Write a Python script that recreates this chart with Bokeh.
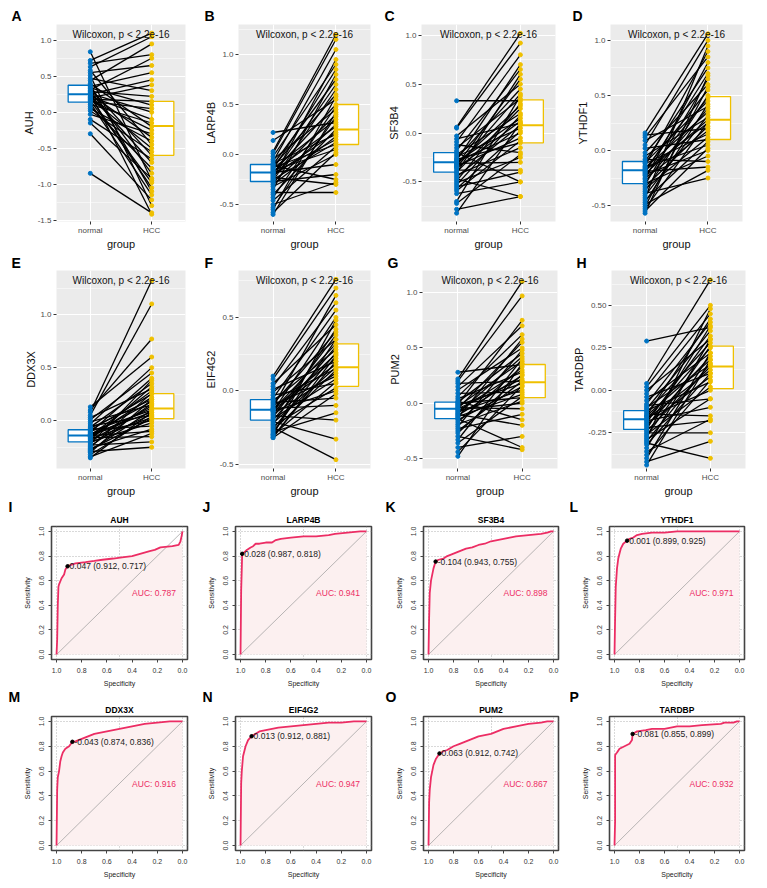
from bokeh.plotting import figure
from bokeh.models import Range1d, FixedTicker, PrintfTickFormatter, Label, ColumnDataSource, Title
from bokeh.layouts import row, column
from bokeh.embed import file_html
from bokeh.resources import INLINE

FONT = "Liberation Sans"
BLUE = "#0073C2"
YELLOW = "#EFC000"
PINK = "#EC2D64"

groups = ["normal", "HCC"]
genes = ["AUH", "LARP4B", "SF3B4", "YTHDF1", "DDX3X", "EIF4G2", "PUM2", "TARDBP"]
box_letters = ["A", "B", "C", "D", "E", "F", "G", "H"]
roc_letters = ["I", "J", "K", "L", "M", "N", "O", "P"]
test_text = "Wilcoxon, p < 2.2e-16"

# ---------------- paired expression values (normal -> HCC) ----------------
normal_AUH = [0.84, 0.72, 0.68, 0.63, 0.58, 0.55, 0.51, 0.47, 0.44, 0.40, 0.38, 0.36, 0.34, 0.33, 0.31, 0.30,
              0.29, 0.27, 0.26, 0.25, 0.25, 0.24, 0.22, 0.21, 0.20, 0.19, 0.18, 0.17, 0.16, 0.15, 0.13, 0.11,
              0.08, 0.05, 0.02, -0.03, -0.10, -0.15, -0.30, -0.85]
hcc_AUH = [-0.95, 1.10, 0.80, 1.05, -0.45, 0.65, -1.30, 0.30, 0.95, -0.20, -1.10, 0.55, 0.10, -0.60, 0.75, -0.85,
           0.22, -1.42, 0.00, -0.35, 0.45, -0.70, -0.10, -1.05, 0.38, -0.50, 0.15, -0.25, -0.98, 0.05, -1.15, -0.15,
           -0.78, -0.40, -0.55, -0.30, -0.65, -0.92, -1.22, -1.40]

normal_LARP4B = [0.22, 0.14, 0.03, 0.01, -0.02, -0.05, -0.07, -0.09, -0.10, -0.11, -0.12, -0.13, -0.14, -0.15, -0.16,
                 -0.17, -0.18, -0.18, -0.19, -0.20, -0.21, -0.22, -0.23, -0.24, -0.25, -0.26, -0.27, -0.28, -0.30,
                 -0.32, -0.35, -0.38, -0.40, -0.43, -0.46, -0.50, -0.53, -0.55, -0.58, -0.60]
hcc_LARP4B = [0.32, 0.55, 1.20, 1.15, 0.90, 0.45, 1.05, 0.20, 0.75, -0.25, 0.60, 0.10, 0.35, 0.85, 0.05, 0.28, 0.50,
              -0.10, 0.15, 0.70, 0.22, 0.40, -0.30, 0.95, 0.12, 0.65, -0.20, 0.30, 0.18, 0.00, 0.80, -0.38, 0.25,
              0.48, 0.08, -0.28, 0.38, 0.58, 0.02, 0.42]

normal_SF3B4 = [0.33, 0.06, 0.05, -0.03, -0.06, -0.09, -0.12, -0.15, -0.18, -0.20, -0.22, -0.24, -0.26, -0.27, -0.28,
                -0.29, -0.30, -0.31, -0.32, -0.33, -0.34, -0.35, -0.36, -0.38, -0.40, -0.41, -0.43, -0.45, -0.47,
                -0.49, -0.51, -0.53, -0.55, -0.57, -0.59, -0.62, -0.70, -0.72, -0.78, -0.82]
hcc_SF3B4 = [0.33, 1.02, 0.92, 0.50, 0.10, 0.80, -0.20, 0.35, 0.65, -0.50, 0.20, 0.05, 0.45, -0.10, 0.70, 0.00, 0.15,
             -0.30, 0.28, 0.55, -0.05, 0.40, 0.12, -0.38, 0.25, 0.60, -0.15, 0.08, -0.65, 0.30, -0.25, 0.18, -0.40,
             0.02, -0.08, -0.50, 0.38, -0.22, -0.65, 0.10]

normal_YTHDF1 = [0.16, 0.14, 0.12, 0.09, 0.05, 0.02, -0.02, -0.05, -0.08, -0.10, -0.11, -0.12, -0.14, -0.15, -0.16,
                 -0.17, -0.18, -0.19, -0.20, -0.21, -0.22, -0.23, -0.25, -0.26, -0.28, -0.30, -0.31, -0.33, -0.35,
                 -0.37, -0.39, -0.41, -0.43, -0.45, -0.47, -0.49, -0.51, -0.53, -0.55, -0.57]
hcc_YTHDF1 = [1.06, 0.20, 0.85, 0.40, 1.00, 0.10, 0.60, 0.30, -0.10, 0.75, 0.45, 0.15, 0.90, 0.05, 0.35, 0.55, 0.25,
              -0.15, 0.70, 0.28, 0.00, 0.48, 0.18, 0.80, 0.38, -0.05, 0.65, 0.22, 0.12, 0.50, -0.25, 0.32, 0.95,
              0.08, 0.42, -0.18, 0.58, 0.26, 0.02, 0.68]

normal_DDX3X = [0.13, 0.10, 0.08, 0.05, 0.03, 0.01, -0.01, -0.03, -0.05, -0.06, -0.07, -0.08, -0.09, -0.10, -0.11,
                -0.12, -0.13, -0.13, -0.14, -0.14, -0.15, -0.15, -0.16, -0.17, -0.18, -0.19, -0.20, -0.21, -0.22,
                -0.23, -0.24, -0.25, -0.26, -0.27, -0.28, -0.29, -0.30, -0.32, -0.34, -0.35]
hcc_DDX3X = [0.60, 0.77, 1.32, 1.10, 0.30, 0.45, 0.15, 0.50, 0.05, 0.35, 0.20, -0.05, 0.25, 0.10, 0.40, 0.00, 0.18,
             0.08, 0.28, -0.10, 0.12, 0.22, -0.15, 0.03, 0.32, 0.14, -0.02, 0.06, 0.38, -0.20, 0.16, 0.26, -0.08,
             0.02, 0.10, -0.25, 0.20, 0.04, -0.12, 0.08]

normal_EIF4G2 = [0.10, 0.08, 0.05, 0.03, 0.01, -0.01, -0.03, -0.05, -0.06, -0.07, -0.08, -0.09, -0.10, -0.11, -0.12,
                 -0.12, -0.13, -0.13, -0.14, -0.14, -0.15, -0.16, -0.17, -0.18, -0.19, -0.20, -0.21, -0.22, -0.23,
                 -0.24, -0.25, -0.26, -0.27, -0.28, -0.29, -0.30, -0.30, -0.31, -0.32, -0.32]
hcc_EIF4G2 = [0.76, 0.70, 0.45, 0.60, 0.20, 0.35, 0.05, 0.55, 0.15, 0.28, -0.05, 0.40, 0.10, 0.65, 0.22, -0.10, 0.32,
              0.18, 0.50, 0.00, 0.25, 0.12, -0.20, 0.38, 0.08, 0.30, -0.33, 0.16, 0.42, 0.02, -0.47, 0.26, 0.14,
              -0.15, 0.35, 0.06, 0.48, 0.20, -0.02, 0.24]

normal_PUM2 = [0.28, 0.22, 0.20, 0.18, 0.15, 0.12, 0.09, 0.06, 0.04, 0.02, 0.01, 0.00, -0.01, -0.02, -0.03, -0.04,
               -0.05, -0.05, -0.06, -0.07, -0.08, -0.09, -0.10, -0.11, -0.12, -0.13, -0.14, -0.15, -0.17, -0.19,
               -0.21, -0.23, -0.25, -0.27, -0.30, -0.33, -0.36, -0.40, -0.44, -0.48]
hcc_PUM2 = [0.35, 1.10, 0.97, 0.20, 0.70, 0.50, 0.10, 0.62, 0.28, -0.15, 0.45, 0.05, 0.75, 0.18, 0.38, -0.05, 0.55,
            0.22, 0.00, 0.30, 0.12, 0.42, -0.20, 0.25, 0.08, 0.58, -0.40, 0.15, 0.33, 0.02, 0.48, -0.10, 0.20, 0.26,
            -0.42, 0.40, 0.06, -0.30, 0.16, 0.36]

normal_TARDBP = [0.29, 0.04, 0.02, 0.00, -0.02, -0.04, -0.06, -0.08, -0.09, -0.10, -0.11, -0.12, -0.13, -0.14, -0.15,
                 -0.15, -0.16, -0.17, -0.17, -0.18, -0.19, -0.20, -0.21, -0.22, -0.23, -0.24, -0.25, -0.26, -0.27,
                 -0.28, -0.29, -0.30, -0.31, -0.32, -0.34, -0.36, -0.38, -0.40, -0.42, -0.44]
hcc_TARDBP = [0.37, 0.65, 0.50, 0.30, 0.45, 0.10, 0.22, 0.40, -0.05, 0.15, 0.35, 0.05, 0.28, -0.15, 0.18, 0.42, 0.00,
              0.25, 0.12, -0.10, 0.32, 0.08, 0.20, -0.18, 0.38, 0.14, -0.25, 0.02, 0.26, 0.48, -0.05, 0.16, -0.40,
              0.10, 0.30, -0.17, 0.06, 0.22, -0.30, 0.18]

# box statistics [q1, median, q3]
box_normal = {
    "AUH": [0.14, 0.25, 0.375], "LARP4B": [-0.27, -0.18, -0.10], "SF3B4": [-0.40, -0.30, -0.20],
    "YTHDF1": [-0.30, -0.18, -0.10], "DDX3X": [-0.20, -0.14, -0.085], "EIF4G2": [-0.20, -0.13, -0.06],
    "PUM2": [-0.14, -0.05, 0.01], "TARDBP": [-0.23, -0.17, -0.12]}
box_hcc = {
    "AUH": [-0.60, -0.19, 0.15], "LARP4B": [0.10, 0.25, 0.50], "SF3B4": [-0.10, 0.08, 0.34],
    "YTHDF1": [0.10, 0.28, 0.49], "DDX3X": [0.02, 0.115, 0.255], "EIF4G2": [0.03, 0.16, 0.32],
    "PUM2": [0.05, 0.19, 0.35], "TARDBP": [0.01, 0.14, 0.26]}

y_limits = {"AUH": (-1.52, 1.22), "LARP4B": (-0.67, 1.30), "SF3B4": (-0.905, 1.11), "YTHDF1": (-0.645, 1.145),
            "DDX3X": (-0.45, 1.415), "EIF4G2": (-0.53, 0.82), "PUM2": (-0.59, 1.20), "TARDBP": (-0.46, 0.705)}
y_ticks = {"AUH": [-1.5, -1.0, -0.5, 0.0, 0.5, 1.0], "LARP4B": [-0.5, 0.0, 0.5, 1.0], "SF3B4": [-0.5, 0.0, 0.5, 1.0],
           "YTHDF1": [-0.5, 0.0, 0.5, 1.0], "DDX3X": [0.0, 0.5, 1.0], "EIF4G2": [-0.5, 0.0, 0.5],
           "PUM2": [-0.5, 0.0, 0.5, 1.0], "TARDBP": [-0.25, 0.0, 0.25, 0.50]}

paired = {"AUH": (normal_AUH, hcc_AUH), "LARP4B": (normal_LARP4B, hcc_LARP4B), "SF3B4": (normal_SF3B4, hcc_SF3B4),
          "YTHDF1": (normal_YTHDF1, hcc_YTHDF1), "DDX3X": (normal_DDX3X, hcc_DDX3X),
          "EIF4G2": (normal_EIF4G2, hcc_EIF4G2), "PUM2": (normal_PUM2, hcc_PUM2), "TARDBP": (normal_TARDBP, hcc_TARDBP)}

# ---------------- ROC curves (specificity, sensitivity) ----------------
spec_AUH = [1.0, 0.995, 0.99, 0.985, 0.98, 0.96, 0.94, 0.93, 0.912, 0.88, 0.85, 0.77, 0.70, 0.635, 0.55, 0.48, 0.40,
            0.33, 0.26, 0.22, 0.175, 0.08, 0.03, 0.016, 0.005, 0.0]
sens_AUH = [0.0, 0.12, 0.40, 0.55, 0.57, 0.62, 0.65, 0.69, 0.717, 0.73, 0.74, 0.75, 0.76, 0.77, 0.78, 0.79, 0.80,
            0.82, 0.84, 0.85, 0.87, 0.88, 0.89, 0.92, 0.97, 1.0]
spec_LARP4B = [1.0, 0.995, 0.99, 0.987, 0.97, 0.95, 0.92, 0.90, 0.88, 0.85, 0.80, 0.75, 0.72, 0.68, 0.60, 0.50, 0.40,
               0.30, 0.25, 0.15, 0.05, 0.0]
sens_LARP4B = [0.0, 0.52, 0.70, 0.818, 0.83, 0.85, 0.87, 0.88, 0.90, 0.90, 0.91, 0.91, 0.93, 0.94, 0.95, 0.96, 0.96,
               0.97, 0.98, 0.99, 1.0, 1.0]
spec_SF3B4 = [1.0, 0.995, 0.99, 0.98, 0.96, 0.943, 0.92, 0.88, 0.85, 0.80, 0.75, 0.70, 0.65, 0.60, 0.55, 0.50, 0.45,
              0.40, 0.35, 0.30, 0.20, 0.10, 0.05, 0.02, 0.0]
sens_SF3B4 = [0.0, 0.30, 0.50, 0.60, 0.70, 0.755, 0.77, 0.78, 0.80, 0.82, 0.84, 0.86, 0.87, 0.89, 0.90, 0.92, 0.93,
              0.94, 0.95, 0.96, 0.97, 0.98, 0.99, 1.0, 1.0]
spec_YTHDF1 = [1.0, 0.995, 0.99, 0.98, 0.97, 0.96, 0.95, 0.93, 0.899, 0.88, 0.85, 0.82, 0.78, 0.70, 0.60, 0.50, 0.0]
sens_YTHDF1 = [0.0, 0.30, 0.55, 0.70, 0.78, 0.82, 0.86, 0.90, 0.925, 0.94, 0.95, 0.97, 0.98, 0.99, 0.99, 1.0, 1.0]
spec_DDX3X = [1.0, 0.995, 0.99, 0.98, 0.97, 0.96, 0.95, 0.93, 0.90, 0.874, 0.85, 0.80, 0.75, 0.70, 0.60, 0.50, 0.40,
              0.30, 0.20, 0.10, 0.0]
sens_DDX3X = [0.0, 0.45, 0.55, 0.60, 0.68, 0.72, 0.75, 0.78, 0.80, 0.836, 0.84, 0.86, 0.88, 0.90, 0.92, 0.94, 0.96,
              0.98, 0.99, 1.0, 1.0]
spec_EIF4G2 = [1.0, 0.995, 0.99, 0.98, 0.96, 0.94, 0.912, 0.88, 0.85, 0.80, 0.75, 0.70, 0.60, 0.50, 0.40, 0.30, 0.20,
               0.10, 0.0]
sens_EIF4G2 = [0.0, 0.50, 0.60, 0.72, 0.80, 0.85, 0.881, 0.90, 0.92, 0.93, 0.94, 0.95, 0.96, 0.97, 0.98, 0.99, 0.99,
               1.0, 1.0]
spec_PUM2 = [1.0, 0.995, 0.99, 0.98, 0.97, 0.96, 0.94, 0.912, 0.88, 0.85, 0.80, 0.75, 0.70, 0.65, 0.60, 0.50, 0.45,
             0.40, 0.30, 0.20, 0.10, 0.05, 0.0]
sens_PUM2 = [0.0, 0.35, 0.45, 0.55, 0.60, 0.65, 0.70, 0.742, 0.76, 0.77, 0.80, 0.82, 0.84, 0.86, 0.88, 0.90, 0.92,
             0.94, 0.96, 0.98, 0.99, 1.0, 1.0]
spec_TARDBP = [1.0, 0.995, 0.995, 0.98, 0.96, 0.92, 0.88, 0.86, 0.855, 0.82, 0.75, 0.70, 0.60, 0.55, 0.50, 0.40, 0.30,
               0.15, 0.12, 0.05, 0.02, 0.0]
sens_TARDBP = [0.0, 0.20, 0.73, 0.75, 0.78, 0.80, 0.82, 0.85, 0.899, 0.92, 0.93, 0.94, 0.94, 0.95, 0.96, 0.96, 0.97,
               0.98, 0.99, 0.99, 1.0, 1.0]

roc_curves = {"AUH": (spec_AUH, sens_AUH), "LARP4B": (spec_LARP4B, sens_LARP4B), "SF3B4": (spec_SF3B4, sens_SF3B4),
              "YTHDF1": (spec_YTHDF1, sens_YTHDF1), "DDX3X": (spec_DDX3X, sens_DDX3X),
              "EIF4G2": (spec_EIF4G2, sens_EIF4G2), "PUM2": (spec_PUM2, sens_PUM2), "TARDBP": (spec_TARDBP, sens_TARDBP)}

thr_value = {"AUH": 0.047, "LARP4B": 0.028, "SF3B4": -0.104, "YTHDF1": 0.001, "DDX3X": -0.043, "EIF4G2": 0.013,
             "PUM2": 0.063, "TARDBP": -0.081}
thr_spec = {"AUH": 0.912, "LARP4B": 0.987, "SF3B4": 0.943, "YTHDF1": 0.899, "DDX3X": 0.874, "EIF4G2": 0.912,
            "PUM2": 0.912, "TARDBP": 0.855}
thr_sens = {"AUH": 0.717, "LARP4B": 0.818, "SF3B4": 0.755, "YTHDF1": 0.925, "DDX3X": 0.836, "EIF4G2": 0.881,
            "PUM2": 0.742, "TARDBP": 0.899}
auc_value = {"AUH": 0.787, "LARP4B": 0.941, "SF3B4": 0.898, "YTHDF1": 0.971, "DDX3X": 0.916, "EIF4G2": 0.947,
             "PUM2": 0.867, "TARDBP": 0.932}

roc_ticks = [0.0, 0.2, 0.4, 0.6, 0.8, 1.0]
roc_grid_x = [0.0, 0.5, 1.0]
roc_grid_y = [0.0, 0.2, 0.4, 0.6, 0.8, 1.0]
chance = [1.0, 0.0]

# ---------------- layout geometry (pixels) ----------------
# (frame_width, min_border_left, min_border_right, letter_offset)
box_cols_r1 = [(129, 56, 7, -45), (132, 46, 10, -34), (134, 41, 15, -37), (132, 40, 15, -38)]
box_cols_r2 = [(129, 56, 7, -45), (132, 46, 10, -34), (135, 42, 13, -35), (134, 37, 16, -35)]
roc_cols = [(136, 51, 5, -43), (136, 43, 9, -33), (135, 43, 12, -38), (135, 39, 13, -40)]
# (frame_height, top, bottom, letter_standoff)
row_geo = [(197, 24, 29, 2), (198, 17, 27, 0), (133, 25, 29, -6), (134, 22, 33, -6)]


def style_axis(ax, size, color):
    ax.axis_line_color = None
    ax.major_tick_in = 0
    ax.minor_tick_line_color = None
    ax.major_label_text_font = FONT
    ax.major_label_text_font_size = size
    ax.major_label_text_color = color
    ax.axis_label_text_font = FONT
    ax.axis_label_text_font_style = "normal"


def base_fig(fw, fh, l, r, t, b, xr, yr, **kw):
    return figure(frame_width=fw, frame_height=fh, min_border_left=l, min_border_right=r, min_border_top=t,
                  min_border_bottom=b, x_range=xr, y_range=yr, output_backend="svg", toolbar_location=None,
                  border_fill_color="white", **kw)


def set_letter(p, text, offset, standoff):
    p.title.text = text
    p.title.align = "left"
    p.title.offset = offset
    p.title.standoff = standoff
    p.title.text_font = FONT
    p.title.text_font_size = "14px"
    p.title.text_font_style = "bold"
    p.title.text_color = "black"


def make_box(k, gene, col, rg):
    fw, l, r, loff = col
    fh, t, b, lst = rg
    normal, hcc = paired[gene]
    ticks = y_ticks[gene]
    step = ticks[1] - ticks[0]
    minor = [v + step / 2 for v in [ticks[0] - step] + ticks]
    p = base_fig(fw, fh, l, r, t, b, Range1d(0.45, 2.55), Range1d(*y_limits[gene]),
                 background_fill_color="#EBEBEB", outline_line_color=None)
    set_letter(p, box_letters[k], loff, lst)

    xpos = {g: i + 1 for i, g in enumerate(groups)}
    p.xaxis.ticker = FixedTicker(ticks=[xpos[g] for g in groups])
    p.xaxis.major_label_overrides = {xpos[g]: g for g in groups}
    p.yaxis.ticker = FixedTicker(ticks=ticks, minor_ticks=minor)
    p.yaxis.formatter = PrintfTickFormatter(format="%.2f" if step < 0.5 else "%.1f")
    for ax in (p.xaxis[0], p.yaxis[0]):
        style_axis(ax, "8px", "#4D4D4D")
        ax.major_tick_out = 3
        ax.major_tick_line_color = "#333333"
        ax.major_label_standoff = 1
        ax.axis_label_text_font_size = "11px"
        ax.axis_label_text_color = "#111111"
        ax.axis_label_standoff = 0
    p.xaxis.axis_label = "group"
    p.yaxis.axis_label = gene
    p.xgrid.grid_line_color = "white"
    p.xgrid.grid_line_width = 1.1
    p.ygrid.grid_line_color = "white"
    p.ygrid.grid_line_width = 1.1
    p.ygrid.minor_grid_line_color = "white"
    p.ygrid.minor_grid_line_width = 0.5

    bw = 0.36
    nq = box_normal[gene]
    hq = box_hcc[gene]
    x1 = xpos[groups[0]]
    x2 = xpos[groups[1]]
    p.quad(left=[x1 - bw], right=[x1], bottom=[nq[0]], top=[nq[2]], fill_color="white", line_color=BLUE,
           line_width=1.3)
    p.segment(x0=[x1 - bw], x1=[x1], y0=[nq[1]], y1=[nq[1]], line_color=BLUE, line_width=2)
    p.quad(left=[x2], right=[x2 + bw], bottom=[hq[0]], top=[hq[2]], fill_color="white", line_color=YELLOW,
           line_width=1.3)
    p.segment(x0=[x2], x1=[x2 + bw], y0=[hq[1]], y1=[hq[1]], line_color=YELLOW, line_width=2)

    src = ColumnDataSource(dict(x0=[x1] * len(normal), y0=normal, x1=[x2] * len(hcc), y1=hcc))
    p.segment(x0="x0", y0="y0", x1="x1", y1="y1", source=src, line_color="black", line_width=1.3)
    p.scatter(x="x0", y="y0", source=src, size=4, color=BLUE)
    p.scatter(x="x1", y="y1", source=src, size=4, color=YELLOW)

    p.add_layout(Label(x=1.5, y=fh - 10, x_units="data", y_units="screen", text=test_text,
                       text_align="center", text_baseline="middle", text_font=FONT, text_font_size="10px",
                       text_color="#111111"))
    return p


def make_roc(k, gene, col, rg):
    fw, l, r, loff = col
    fh, t, b, lst = rg
    spec, sens = roc_curves[gene]
    p = base_fig(fw, fh, l, r, t, b, Range1d(1.04, -0.04), Range1d(-0.04, 1.04),
                 background_fill_color="white", outline_line_color="#444444", outline_line_width=1.6)
    set_letter(p, roc_letters[k], loff, lst)
    p.add_layout(Title(text=gene, align="center", standoff=3, text_font=FONT, text_font_size="8.5px",
                       text_font_style="bold", text_color="black"), "above")

    p.xaxis.ticker = FixedTicker(ticks=roc_ticks)
    p.yaxis.ticker = FixedTicker(ticks=roc_ticks)
    for ax in (p.xaxis[0], p.yaxis[0]):
        ax.formatter = PrintfTickFormatter(format="%.1f")
        style_axis(ax, "7px", "#333333")
        ax.major_tick_out = 3
        ax.major_tick_line_color = "#444444"
        ax.axis_label_text_font_size = "7px"
        ax.axis_label_text_color = "#222222"
    p.xaxis.major_label_standoff = 5
    p.xaxis.axis_label_standoff = 4
    p.yaxis.major_label_standoff = 4
    p.yaxis.axis_label_standoff = 6
    p.yaxis.major_label_orientation = "vertical"
    p.xaxis.axis_label = "Specificity"
    p.yaxis.axis_label = "Sensitivity"
    p.xgrid.ticker = FixedTicker(ticks=roc_grid_x)
    p.ygrid.ticker = FixedTicker(ticks=roc_grid_y)
    for g in (p.xgrid[0], p.ygrid[0]):
        g.grid_line_color = "#A0A0A0"
        g.grid_line_dash = "1 2"
        g.grid_line_width = 0.8

    poly_x = list(spec) + [spec[-1]]
    poly_y = list(sens) + [0.0]
    p.patch(x=poly_x, y=poly_y, fill_color="#FCF0F0", line_color=None)
    p.line(x=chance, y=chance[::-1], line_color="#9A9A9A", line_width=0.7)
    p.line(x=spec, y=sens, line_color=PINK, line_width=1.8)
    p.scatter(x=[thr_spec[gene]], y=[thr_sens[gene]], size=3.5, color="black")
    p.add_layout(Label(x=thr_spec[gene], y=thr_sens[gene], x_offset=2,
                       text="%.3f (%.3f, %.3f)" % (thr_value[gene], thr_spec[gene], thr_sens[gene]),
                       text_align="left", text_baseline="middle", text_font=FONT, text_font_size="8.5px",
                       text_color="#222222"))
    p.add_layout(Label(x=0.4, y=0.5, text="AUC: %.3f" % auc_value[gene], text_align="left",
                       text_baseline="middle", text_font=FONT, text_font_size="8.5px", text_color=PINK))
    return p


rows = []
rows.append(row([make_box(i, genes[i], box_cols_r1[i], row_geo[0]) for i in range(4)]))
rows.append(row([make_box(4 + i, genes[4 + i], box_cols_r2[i], row_geo[1]) for i in range(4)]))
rows.append(row([make_roc(i, genes[i], roc_cols[i], row_geo[2]) for i in range(4)]))
rows.append(row([make_roc(4 + i, genes[4 + i], roc_cols[i], row_geo[3]) for i in range(4)]))
layout = column(rows)

open("out.html", "w").write(file_html(layout, INLINE))
